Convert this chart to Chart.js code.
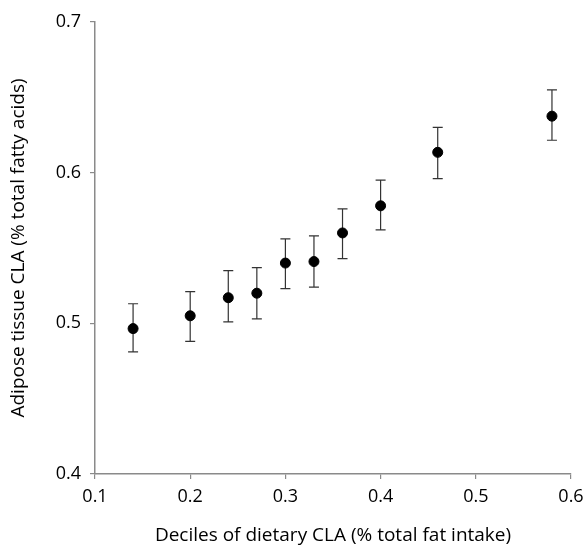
<!DOCTYPE html>
<html>
<head>
<meta charset="utf-8">
<script src="https://cdn.jsdelivr.net/npm/chart.js@4/dist/chart.umd.min.js"></script>
<style>
  html, body { margin: 0; padding: 0; background: #fff; }
  #wrap { width: 583px; height: 550px; }
</style>
</head>
<body>
<div id="wrap"><canvas id="cla-chart" width="583" height="550"></canvas></div>
<script>
// decile medians of dietary CLA vs adipose tissue CLA, mean with error bars
const dietaryCla = [0.14, 0.20, 0.24, 0.27, 0.30, 0.33, 0.36, 0.40, 0.46, 0.58];
const adiposeCla = [0.4965, 0.505, 0.517, 0.520, 0.540, 0.541, 0.560, 0.578, 0.6135, 0.6375];
const errLow = [0.481, 0.488, 0.501, 0.503, 0.523, 0.524, 0.543, 0.562, 0.596, 0.6215];
const errHigh = [0.513, 0.521, 0.535, 0.537, 0.556, 0.558, 0.576, 0.595, 0.630, 0.655];

const FONT = "'Open Sans', 'Noto Sans', sans-serif";
const AXIS_GREY = "#8a8a8a";

const errorBars = {
  id: "errorBars",
  beforeDatasetsDraw(chart) {
    const { ctx, scales: { x, y } } = chart;
    ctx.save();
    ctx.strokeStyle = "#333";
    ctx.lineWidth = 1.2;
    dietaryCla.forEach((v, i) => {
      const px = x.getPixelForValue(v);
      const top = y.getPixelForValue(errHigh[i]);
      const bot = y.getPixelForValue(errLow[i]);
      ctx.beginPath();
      ctx.moveTo(px, top);
      ctx.lineTo(px, bot);
      ctx.moveTo(px - 5, top);
      ctx.lineTo(px + 5, top);
      ctx.moveTo(px - 5, bot);
      ctx.lineTo(px + 5, bot);
      ctx.stroke();
    });
    ctx.restore();
  },
};

new Chart(document.getElementById("cla-chart"), {
  type: "scatter",
  data: {
    datasets: [
      {
        label: "Adipose tissue CLA",
        data: dietaryCla.map((v, i) => ({ x: v, y: adiposeCla[i] })),
        backgroundColor: "#000",
        borderColor: "#000",
        pointRadius: 5,
        pointHoverRadius: 5,
      },
    ],
  },
  plugins: [errorBars],
  options: {
    responsive: false,
    animation: false,
    layout: { padding: { top: 22, right: 12, left: 0, bottom: 0 } },
    plugins: {
      legend: { display: false },
      tooltip: { enabled: false },
    },
    scales: {
      x: {
        type: "linear",
        min: 0.1,
        max: 0.6,
        afterFit: (scale) => {
          scale.height = 76;
          // let the last tick label run to the canvas edge, as in the original
          scale.paddingRight = 0;
          scale.paddingLeft = 0;
        },
        border: { color: AXIS_GREY, width: 1.5 },
        grid: { drawOnChartArea: false, tickLength: 5, color: AXIS_GREY, lineWidth: 1.2 },
        ticks: {
          stepSize: 0.1,
          color: "#000",
          padding: 7,
          font: { family: FONT, size: 18 },
          callback: (value) => value.toFixed(1),
        },
        title: {
          display: true,
          text: "Deciles of dietary CLA (% total fat intake)",
          color: "#000",
          padding: { top: 0, bottom: 3 },
          font: { family: FONT, size: 19 },
        },
      },
      y: {
        min: 0.4,
        max: 0.7,
        afterFit: (scale) => { scale.width = 95; },
        border: { color: AXIS_GREY, width: 1.5 },
        grid: { drawOnChartArea: false, tickLength: 5, color: AXIS_GREY, lineWidth: 1.2 },
        ticks: {
          stepSize: 0.1,
          color: "#000",
          padding: 9,
          font: { family: FONT, size: 18 },
          callback: (value) => value.toFixed(1),
        },
        title: {
          display: true,
          text: "Adipose tissue CLA (% total fatty acids)",
          color: "#000",
          padding: { top: 7, bottom: 0 },
          font: { family: FONT, size: 19 },
        },
      },
    },
  },
});
</script>
</body>
</html>
